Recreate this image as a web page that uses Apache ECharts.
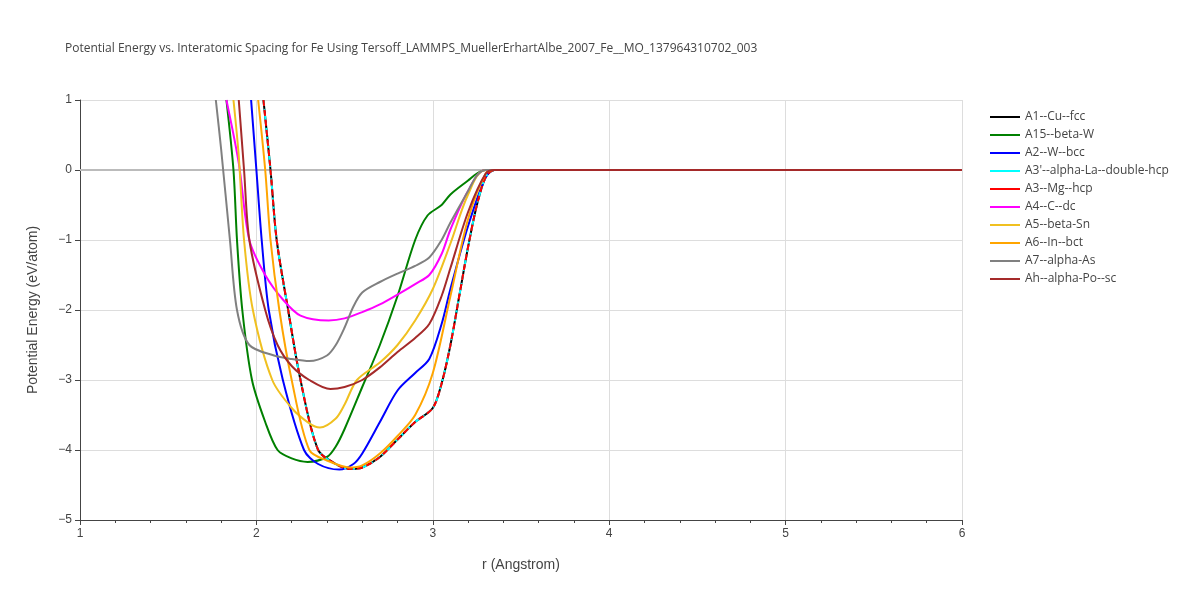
<!DOCTYPE html><html><head><meta charset="utf-8"><script src="https://cdn.jsdelivr.net/npm/echarts@6/dist/echarts.min.js"></script></head><body style="margin:0"><div id="c" style="width:1200px;height:600px"></div><script>
const names=["A1--Cu--fcc","A15--beta-W","A2--W--bcc","A3'--alpha-La--double-hcp","A3--Mg--hcp","A4--C--dc","A5--beta-Sn","A6--In--bct","A7--alpha-As","Ah--alpha-Po--sc"];
const colors=["#000000","#008000","#0000ff","#00ffff","#ff0000","#ff00ff","#f0c020","#ffa500","#808080","#a52a2a"];
const fcc=[[2.04,1],[2.08,0],[2.115,-1],[2.18,-2],[2.25,-3],[2.35,-4],[2.45,-4.2],[2.53,-4.27],[2.6,-4.25],[2.7,-4.1],[2.8,-3.85],[2.9,-3.6],[3.0,-3.4],[3.05,-3.05],[3.1,-2.5],[3.15,-1.8],[3.2,-1.1],[3.25,-0.5],[3.3,-0.1],[3.35,0],[6,0]];
const a15=[[1.83,1],[1.87,0],[1.89,-1],[1.92,-2],[1.975,-3],[2.05,-3.6],[2.12,-4],[2.2,-4.12],[2.29,-4.17],[2.4,-4.1],[2.45,-3.95],[2.5,-3.7],[2.6,-3.1],[2.7,-2.5],[2.8,-1.8],[2.9,-1.0],[2.97,-0.65],[3.05,-0.5],[3.1,-0.35],[3.2,-0.15],[3.25,-0.05],[3.3,0],[6,0]];
const bcc=[[1.97,1],[2.0,0],[2.03,-1],[2.07,-2],[2.15,-3],[2.27,-4],[2.35,-4.2],[2.47,-4.28],[2.55,-4.2],[2.6,-4.05],[2.7,-3.6],[2.8,-3.15],[2.9,-2.9],[2.98,-2.7],[3.05,-2.2],[3.1,-1.7],[3.2,-0.8],[3.3,-0.1],[3.35,0],[6,0]];
const dc=[[1.83,1],[1.9,0.1],[1.96,-1],[2.05,-1.5],[2.15,-1.85],[2.25,-2.08],[2.41,-2.15],[2.5,-2.12],[2.6,-2.03],[2.7,-1.92],[2.8,-1.78],[2.9,-1.63],[2.98,-1.5],[3.05,-1.2],[3.1,-0.85],[3.2,-0.3],[3.3,0],[6,0]];
const sn=[[1.87,1],[1.9,0.2],[1.93,-1],[1.98,-2],[2.09,-3],[2.2,-3.4],[2.3,-3.62],[2.36,-3.68],[2.45,-3.55],[2.5,-3.35],[2.57,-3.0],[2.7,-2.75],[2.8,-2.5],[2.9,-2.15],[3.0,-1.7],[3.1,-1.05],[3.2,-0.35],[3.3,0],[6,0]];
const bct=[[2.01,1],[2.05,0],[2.08,-1],[2.13,-2],[2.2,-3],[2.3,-4],[2.4,-4.15],[2.53,-4.25],[2.6,-4.22],[2.7,-4.05],[2.8,-3.8],[2.9,-3.5],[3.0,-2.9],[3.1,-1.8],[3.2,-0.7],[3.3,-0.05],[3.35,0],[6,0]];
const as=[[1.77,1],[1.8,0.3],[1.85,-1],[1.89,-2],[1.96,-2.5],[2.1,-2.65],[2.2,-2.7],[2.3,-2.73],[2.4,-2.65],[2.45,-2.5],[2.5,-2.25],[2.55,-1.95],[2.6,-1.75],[2.7,-1.6],[2.8,-1.48],[2.9,-1.37],[2.98,-1.25],[3.05,-1.0],[3.1,-0.75],[3.2,-0.3],[3.25,-0.08],[3.3,0],[6,0]];
const sc=[[1.9,1],[1.93,0],[1.96,-1],[2.05,-2],[2.12,-2.5],[2.2,-2.8],[2.3,-3.0],[2.42,-3.13],[2.5,-3.1],[2.6,-3.0],[2.7,-2.82],[2.8,-2.6],[2.9,-2.4],[2.98,-2.2],[3.05,-1.8],[3.1,-1.4],[3.2,-0.6],[3.3,-0.05],[3.35,0],[6,0]];
const datas=[fcc,a15,bcc,fcc,fcc,dc,sn,bct,as,sc];
const types=['solid','solid','solid',[6,3,2,3],[6,4],'solid','solid','solid','solid','solid'];
const series=names.map((n,i)=>({name:n,type:'line',data:datas[i],showSymbol:false,smooth:0.3,
 lineStyle:{color:colors[i],width:2,type:types[i]},itemStyle:{color:colors[i]},z:i===0?1:2}));
const ch=echarts.init(document.getElementById('c'));
ch.setOption({animation:false,
title:{text:'Potential Energy vs. Interatomic Spacing for Fe Using Tersoff_LAMMPS_MuellerErhartAlbe_2007_Fe__MO_137964310702_003',left:60,top:38,textStyle:{fontSize:12,fontWeight:'normal',color:'#444',fontFamily:'Open Sans'}},
grid:{left:80,right:238,top:100,bottom:80},
legend:{orient:'vertical',left:985,top:106,itemGap:6,itemWidth:30,icon:'path://M0,0L30,0L30,2L0,2Z',textStyle:{fontSize:12,color:'#444',fontFamily:'Open Sans'}},
xAxis:{type:'value',min:1,max:6,interval:1,name:'r (Angstrom)',nameLocation:'middle',nameGap:38,nameTextStyle:{fontSize:14,color:'#444'},
 axisLine:{onZero:false,lineStyle:{color:'#444'}},axisTick:{show:true,length:5,lineStyle:{color:'#444'}},minorTick:{show:true,splitNumber:5,length:3,lineStyle:{color:'#444'}},
 axisLabel:{color:'#444',fontSize:12},splitLine:{lineStyle:{color:'#ddd'}}},
yAxis:{type:'value',min:-5,max:1,interval:1,name:'Potential Energy (eV/atom)',nameLocation:'middle',nameGap:40,nameTextStyle:{fontSize:14,color:'#444'},
 axisLine:{show:true,onZero:false,lineStyle:{color:'#444'}},axisTick:{show:true,length:5,lineStyle:{color:'#444'}},
 axisLabel:{color:'#444',fontSize:12,formatter:v=>v<0?'\u2212'+(-v):v},splitLine:{lineStyle:{color:'#ddd'}}},
series:series.concat([{type:'line',data:[[1,0],[6,0]],showSymbol:false,silent:true,lineStyle:{color:'#bbb',width:2},z:0,tooltip:{show:false}}])
});
</script></body></html>
